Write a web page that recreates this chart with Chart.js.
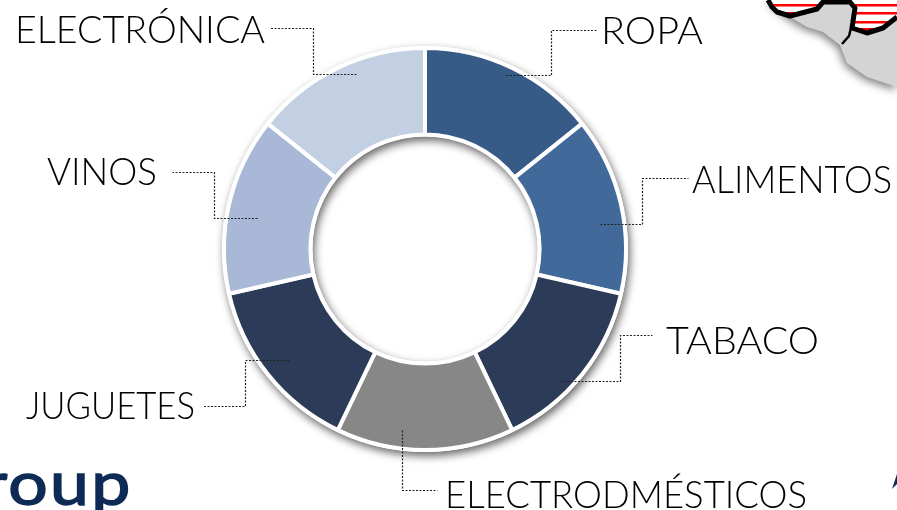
<!DOCTYPE html>
<html>
<head>
<meta charset="utf-8">
<style>
  html, body { margin: 0; padding: 0; background: #fff; overflow: hidden; }
  #grafica { display: block; }
</style>
</head>
<body>
<canvas id="grafica" width="897" height="510"></canvas>
<script src="https://cdn.jsdelivr.net/npm/chart.js@4"></script>
<script>
const categorias = ["ROPA", "ALIMENTOS", "TABACO", "ELECTRODMÉSTICOS", "JUGUETES", "VINOS", "ELECTRÓNICA"];
const valores = [14.3, 14.3, 14.3, 14.3, 14.3, 14.3, 14.3];
const colores = ["#365b87", "#41699a", "#2c3c58", "#878787", "#2c3c58", "#a9b8d6", "#c3cfe2"];

// x, linea base y ancho de cada etiqueta, y el recorrido de su linea punteada
const etiquetas = [
  { x: 601, y: 44, ancho: 102, guia: [[506, 75], [551, 75], [551, 30], [597, 30]] },
  { x: 692, y: 193, ancho: 200, guia: [[600, 224], [642, 224], [642, 178], [688, 178]] },
  { x: 666, y: 354, ancho: 153, guia: [[560, 381], [620, 381], [620, 335], [652, 335]] },
  { x: 445, y: 508, ancho: 362, guia: [[402, 430], [402, 490], [437, 490]] },
  { x: 26, y: 419, ancho: 169, guia: [[289, 360], [245, 360], [245, 406], [202, 406]] },
  { x: 47, y: 185, ancho: 110, guia: [[257, 218], [214, 218], [214, 172], [172, 172]] },
  { x: 15, y: 43, ancho: 250, guia: [[356, 74], [313, 74], [313, 28], [270, 28]] },
];

function trazar(ctx, puntos) {
  ctx.beginPath();
  puntos.forEach((p, i) => (i ? ctx.lineTo(p[0], p[1]) : ctx.moveTo(p[0], p[1])));
}

// fondo: trozo de mapa, logo cortado
const fondo = {
  id: "fondo",
  beforeDraw(chart) {
    const ctx = chart.ctx;
    const borde = [[768, 0], [772, 7], [777, 12], [790, 16], [817, 9], [823, 2], [850, 2], [855, 8], [852, 28], [867, 33], [883, 28], [897, 17]];

    ctx.save();
    ctx.shadowColor = "rgba(0,0,0,0.5)";
    ctx.shadowBlur = 8;
    ctx.shadowOffsetX = -2;
    ctx.shadowOffsetY = 3;
    ctx.fillStyle = "#d4d4d4";
    trazar(ctx, [[768, 0], [790, 17], [807, 27], [823, 32], [840, 45], [847, 63], [867, 77], [897, 87], [897, 0]]);
    ctx.closePath();
    ctx.fill();
    ctx.restore();

    ctx.save();
    trazar(ctx, borde.concat([[897, 0]]));
    ctx.closePath();
    ctx.fillStyle = "#ffffff";
    ctx.fill();
    ctx.clip();
    ctx.fillStyle = "#ff0000";
    [4, 12, 21, 28].forEach((y) => ctx.fillRect(768, y, 129, 2.5));
    ctx.restore();

    ctx.save();
    ctx.strokeStyle = "#000000";
    ctx.lineWidth = 5;
    ctx.lineJoin = "round";
    trazar(ctx, borde);
    ctx.stroke();
    ctx.lineWidth = 2.5;
    trazar(ctx, [[851, 28], [849, 36], [842, 44]]);
    ctx.stroke();
    ctx.restore();

    ctx.save();
    ctx.fillStyle = "#0d2b55";
    ctx.strokeStyle = "#0d2b55";
    trazar(ctx, [[892, 489], [897, 474], [897, 484]]);
    ctx.closePath();
    ctx.fill();
    ctx.font = "400 60px Lato";
    ctx.letterSpacing = "2px";
    ctx.textBaseline = "alphabetic";
    ctx.lineWidth = 1.5;
    ctx.translate(-18, 505);
    ctx.scale(1.16, 1);
    ctx.fillText("roup", 0, 0);
    ctx.strokeText("roup", 0, 0);
    ctx.restore();
  },
  // sombra del anillo, por debajo de los sectores
  beforeDatasetsDraw(chart) {
    const arco = chart.getDatasetMeta(0).data[0];
    const ctx = chart.ctx;
    ctx.save();
    ctx.shadowColor = "rgba(0,0,0,0.6)";
    ctx.shadowBlur = 8;
    ctx.shadowOffsetX = 2;
    ctx.shadowOffsetY = 4;
    ctx.fillStyle = "#ffffff";
    ctx.beginPath();
    ctx.arc(arco.x, arco.y, arco.outerRadius + 2, 0, Math.PI * 2);
    ctx.arc(arco.x, arco.y, arco.innerRadius - 2, 0, Math.PI * 2, true);
    ctx.fill("evenodd");
    ctx.restore();
  },
  afterDatasetsDraw(chart) {
    const ctx = chart.ctx;
    etiquetas.forEach((et, i) => {
      ctx.save();
      ctx.strokeStyle = "#222222";
      ctx.lineWidth = 1.2;
      ctx.setLineDash([2, 1.5]);
      trazar(ctx, et.guia.map((p) => [p[0] + 0.5, p[1] + 0.5]));
      ctx.stroke();
      ctx.setLineDash([]);

      ctx.fillStyle = "#000000";
      ctx.font = "300 38px Lato";
      ctx.textBaseline = "alphabetic";
      const w = ctx.measureText(categorias[i]).width;
      ctx.translate(et.x, et.y);
      ctx.scale(et.ancho / w, 1);
      ctx.fillText(categorias[i], 0, 0);
      ctx.restore();
    });
  },
};

new Chart(document.getElementById("grafica"), {
  type: "doughnut",
  data: {
    labels: categorias,
    datasets: [{
      data: valores,
      backgroundColor: colores,
      borderColor: "#ffffff",
      borderWidth: 4,
      borderAlign: "center",
      hoverOffset: 0,
    }],
  },
  options: {
    responsive: false,
    animation: false,
    cutout: "57%",
    layout: { padding: { top: 46, bottom: 58, left: 222, right: 269 } },
    plugins: { legend: { display: false }, tooltip: { enabled: false } },
  },
  plugins: [fondo],
});
</script>
</body>
</html>
